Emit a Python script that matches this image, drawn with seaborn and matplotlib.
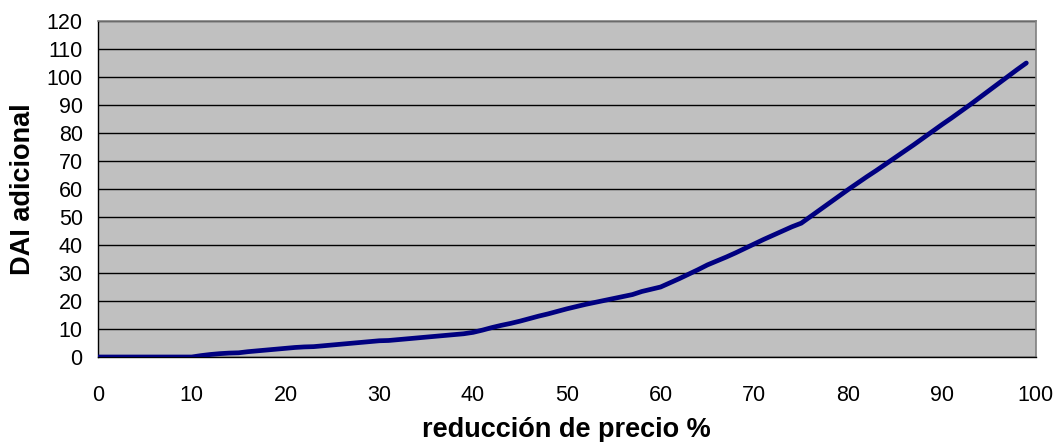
import numpy as np
import pandas as pd
import seaborn as sns
import matplotlib.pyplot as plt

# reducción de precio (%) and DAI adicional
reduccion = list(range(0, 100))
dai = [0, 0, 0, 0, 0, 0, 0, 0, 0, 0,
       0, 0.5, 0.9, 1.2, 1.4, 1.5, 1.9, 2.2, 2.5, 2.8,
       3.1, 3.4, 3.6, 3.7, 4.0, 4.3, 4.6, 4.9, 5.2, 5.5,
       5.8, 5.9, 6.2, 6.5, 6.8, 7.1, 7.4, 7.7, 8.0, 8.3,
       8.8, 9.6, 10.5, 11.3, 12.0, 12.8, 13.7, 14.6, 15.4, 16.3,
       17.2, 18.0, 18.8, 19.5, 20.2, 20.9, 21.6, 22.3, 23.4, 24.2,
       25.0, 26.5, 28.0, 29.6, 31.2, 32.9, 34.3, 35.7, 37.2, 38.8,
       40.4, 42.0, 43.5, 45.0, 46.5, 47.8, 50.2, 52.6, 55.0, 57.4,
       59.8, 62.1, 64.4, 66.6, 68.9, 71.2, 73.5, 75.8, 78.2, 80.6,
       83.0, 85.3, 87.7, 90.1, 92.6, 95.1, 97.6, 100.1, 102.6, 105.0]

df = pd.DataFrame({"reduccion": reduccion, "dai": dai})

sns.set_style("white")
plt.rcParams['font.family'] = ['Liberation Sans', 'DejaVu Sans']
plt.rcParams['text.color'] = 'black'
plt.rcParams['axes.labelcolor'] = 'black'

fig = plt.figure(figsize=(10.59, 4.42), dpi=100)
ax = fig.add_axes([0.0925, 0.1923, 0.8855, 0.7602])
ax.set_facecolor("#c0c0c0")

sns.lineplot(data=df, x="reduccion", y="dai", color="#000080", linewidth=3.4,
             solid_capstyle="round", ax=ax, zorder=3)

ax.set_xlim(0, 100)
ax.set_ylim(0, 120)
ax.set_xticks(range(0, 101, 10))
ax.set_yticks(range(0, 121, 10))
ax.yaxis.grid(True, color="black", linewidth=1.0)
ax.set_axisbelow(True)

for s in ["top", "right"]:
    ax.spines[s].set_color("#808080")
    ax.spines[s].set_linewidth(1.2)
for s in ["left", "bottom"]:
    ax.spines[s].set_color("black")
    ax.spines[s].set_linewidth(1.0)

ax.tick_params(axis="both", direction="out", length=6, width=1, colors="black",
               labelsize=15.5)
ax.tick_params(axis="x", pad=14)
ax.tick_params(axis="y", pad=5)

ax.set_xlabel("reducción de precio %", fontsize=19.5, fontweight="bold", labelpad=8)
ax.set_ylabel("DAI adicional", fontsize=19.5, fontweight="bold", labelpad=7.5)

fig.savefig("out.png", dpi=100)
